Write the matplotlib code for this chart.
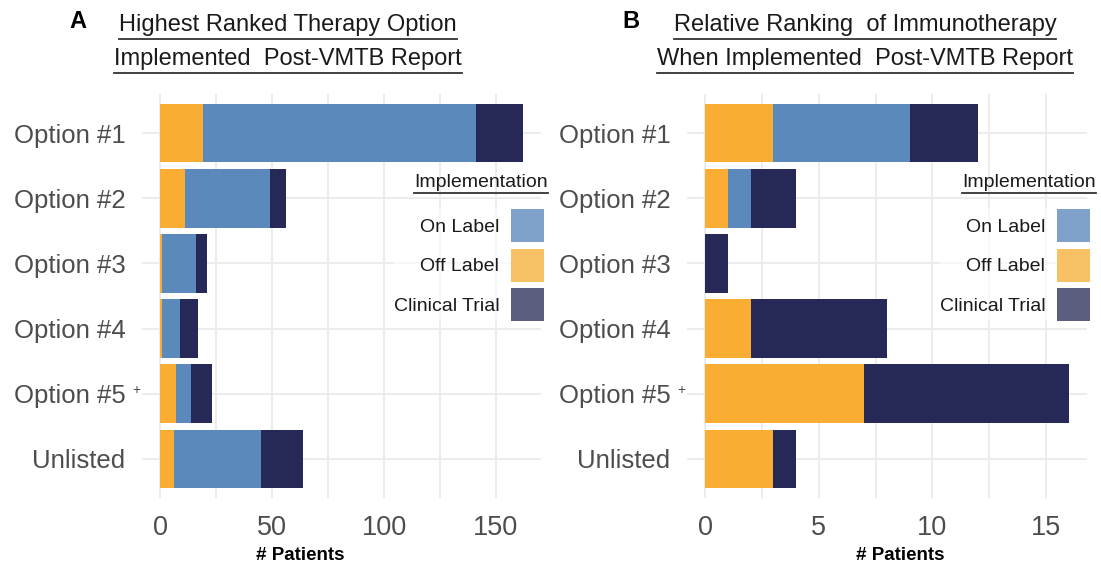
import numpy as np
import matplotlib
matplotlib.use("Agg")
import matplotlib.pyplot as plt
from matplotlib.patches import Patch
from matplotlib.lines import Line2D
from matplotlib.transforms import blended_transform_factory

plt.rcParams['font.family'] = ['Liberation Sans', 'DejaVu Sans']

# ---------------------------------------------------------------
# data
# ---------------------------------------------------------------
categories = ["Option #1", "Option #2", "Option #3", "Option #4",
              "Option #5", "Unlisted"]
superscript = {"Option #5": "+"}

# panel A: highest ranked therapy option
a_off = [19, 11, 1, 1, 7, 6]
a_on = [122, 38, 15, 8, 7, 39]
a_trial = [21, 7, 5, 8, 9, 19]

# panel B: immunotherapy ranking
b_off = [3, 1, 0, 2, 7, 3]
b_on = [6, 1, 0, 0, 0, 0]
b_trial = [3, 2, 1, 6, 9, 1]

titles = ["Highest Ranked Therapy Option\nImplemented  Post-VMTB Report",
          "Relative Ranking  of Immunotherapy\nWhen Implemented  Post-VMTB Report"]
letters = ["A", "B"]

c_off = "#F9AE33"
c_on = "#5B89BC"
c_trial = "#262957"
key_on = "#7FA1CA"
key_off = "#F8C165"
key_trial = "#5C5E80"

W, H = 1101, 564
fig = plt.figure(figsize=(W / 100, H / 100), dpi=100)


def px_axes(l, r, t, b):
    return fig.add_axes([l / W, 1 - b / H, (r - l) / W, (b - t) / H])


def underline(txt, off=3, lw=1.3):
    r = fig.canvas.get_renderer()
    bb = txt.get_window_extent(renderer=r)
    y = bb.y0 - off
    fig.add_artist(Line2D([bb.x0, bb.x1], [y, y], transform=None,
                          color="#333333", lw=lw))


def panel(ax, off, on, trial, major, minor):
    y = np.arange(len(categories))
    off = np.array(off)
    on = np.array(on)
    trial = np.array(trial)
    ax.barh(y, off, height=0.9, color=c_off, lw=0, zorder=3)
    ax.barh(y, on, left=off, height=0.9, color=c_on, lw=0, zorder=3)
    ax.barh(y, trial, left=off + on, height=0.9, color=c_trial, lw=0, zorder=3)
    tot = (off + on + trial).max()
    ax.set_xlim(-0.05 * tot, tot * 1.05)
    ax.set_ylim(len(categories) - 0.4, -0.6)
    ax.set_yticks(y)
    ax.set_yticklabels(categories)
    ax.set_xticks(major)
    ax.set_xticks(minor, minor=True)
    ax.grid(True, which="both", axis="x", color="#EBEBEB", lw=1.3, zorder=0)
    ax.grid(True, which="major", axis="y", color="#EBEBEB", lw=1.3, zorder=0)
    ax.tick_params(which="both", length=0, labelcolor="#4D4D4D")
    ax.tick_params(axis="y", pad=12, labelsize=18.5)
    ax.tick_params(axis="x", pad=12, labelsize=19.5)
    for s in ax.spines.values():
        s.set_visible(False)
    # superscript marks hanging past the tick label
    tr = blended_transform_factory(fig.transFigure, ax.transData)
    x0 = ax.get_position().x0
    for i, c in enumerate(categories):
        if c in superscript:
            ax.text(x0 - 2 / W, i - 0.06, superscript[c], transform=tr,
                    ha="right", va="center", fontsize=10, color="#4D4D4D")


axA = px_axes(142, 541, 94, 498)
panel(axA, a_off, a_on, a_trial, [0, 50, 100, 150], [25, 75, 125])
axB = px_axes(687, 1087, 94, 498)
panel(axB, b_off, b_on, b_trial, [0, 5, 10, 15], [2.5, 7.5, 12.5])

handles = [Patch(facecolor=key_on, label="On Label"),
           Patch(facecolor=key_off, label="Off Label"),
           Patch(facecolor=key_trial, label="Clinical Trial")]

title_texts = []
for ax, xk, xt, tx, lx, title, letter, xl in [
        (axA, 544, 548, 288, 78, titles[0], letters[0], 300),
        (axB, 1090, 1096, 865, 631, titles[1], letters[1], 900)]:
    leg = ax.legend(handles=handles, loc="upper right",
                    bbox_to_anchor=(xk / W, 1 - 209 / H),
                    bbox_transform=fig.transFigure, fontsize=14,
                    markerfirst=False, frameon=True,
                    handlelength=1.7, handleheight=2.23, labelspacing=0.34,
                    handletextpad=0.6, borderpad=0, borderaxespad=0)
    leg.get_frame().set_facecolor("white")
    leg.get_frame().set_alpha(0.6)
    leg.get_frame().set_linewidth(0)
    leg.set_zorder(5)
    for t in leg.get_texts():
        t.set_color("#1A1A1A")
    lt = fig.text(xt / W, 1 - 187 / H, "Implementation", ha="right",
                  va="baseline", fontsize=14, color="#1A1A1A")
    title_texts.append((lt, 1.5))

    l1, l2 = title.split("\n")
    t1 = fig.text(tx / W, 1 - 31 / H, l1, ha="center", va="baseline",
                  fontsize=17, color="#1A1A1A")
    t2 = fig.text(tx / W, 1 - 65 / H, l2, ha="center", va="baseline",
                  fontsize=17, color="#1A1A1A")
    title_texts += [(t1, 3), (t2, 2.5)]
    fig.text(lx / W, 1 - 22 / H, letter, ha="center", va="center",
             fontsize=17, fontweight="bold", color="black")
    fig.text(xl / W, 1 - 555 / H, "# Patients", ha="center", va="center",
             fontsize=13.5, fontweight="bold", color="black")

fig.canvas.draw()
for t, off in title_texts:
    underline(t, off)

fig.savefig("out.png", dpi=100)
